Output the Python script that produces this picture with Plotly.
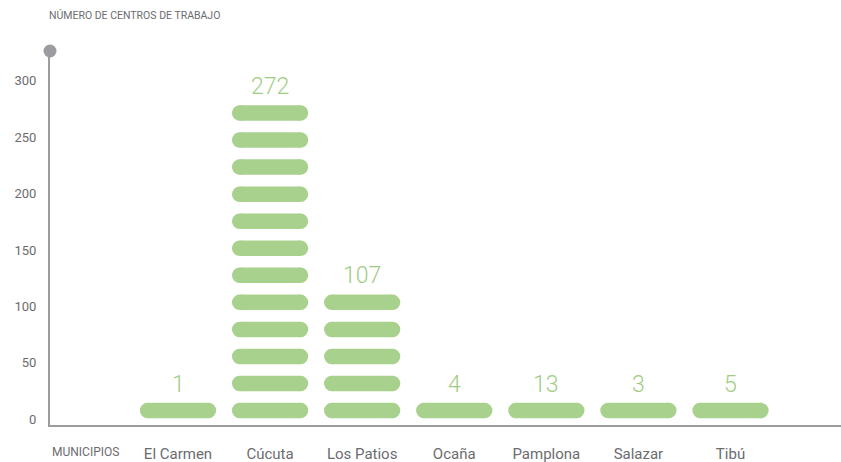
import math
import plotly.graph_objects as go

# ---- data ----
municipios = ["El Carmen", "Cúcuta", "Los Patios", "Ocaña", "Pamplona", "Salazar", "Tibú"]
centros = [1, 272, 107, 4, 13, 3, 5]
y_ticks = [0, 50, 100, 150, 200, 250, 300]
y_title = "NÚMERO DE CENTROS DE TRABAJO"
x_title = "MUNICIPIOS"

# ---- styles ----
GREEN = "#a9d18e"
GREEN_TXT = "#9fcd84"
AXIS = "#9b9ca0"
TXT = "#6b6c70"
FONT = "Roboto, DejaVu Sans Condensed, sans-serif"
PILL_UNIT = 24        # value represented by one pill
PILL_OFFSET = 7.5     # centre of first pill (value units)
PILL_HALF = 0.33      # half length of the straight part (category units)
PILL_PX = 15.5        # pill thickness in px
X_RANGE = [-1.39, 7.2]
Y_RANGE = [-5.3, 326.5]

fig = go.Figure()

px, py = [], []
tops = []
for i, v in enumerate(centros):
    n = max(1, math.ceil(v / PILL_UNIT))
    for k in range(n):
        yc = PILL_OFFSET + PILL_UNIT * k
        px += [i - PILL_HALF, i + PILL_HALF, None]
        py += [yc, yc, None]
    tops.append(PILL_OFFSET + PILL_UNIT * (n - 1))

fig.add_trace(go.Scatter(
    x=px, y=py, mode="lines+markers",
    line=dict(color=GREEN, width=PILL_PX),
    marker=dict(color=GREEN, size=PILL_PX, line=dict(width=0)),
    hoverinfo="skip", showlegend=False, connectgaps=False,
))

# circle at top of y axis
fig.add_trace(go.Scatter(
    x=[X_RANGE[0]], y=[Y_RANGE[1]], mode="markers",
    marker=dict(color=AXIS, size=13, line=dict(width=0)),
    cliponaxis=False, hoverinfo="skip", showlegend=False,
))

for i, (v, t) in enumerate(zip(centros, tops)):
    fig.add_annotation(
        x=i, y=t, text=str(v), showarrow=False,
        xanchor="center", yanchor="bottom", yshift=11,
        font=dict(family=FONT, size=23, color=GREEN_TXT, weight=300),
    )

fig.add_annotation(
    xref="paper", yref="paper", x=0, y=1, xshift=-3, yshift=36,
    xanchor="left", yanchor="middle", text=y_title, showarrow=False,
    font=dict(family=FONT, size=10.5, color=TXT),
)
fig.add_annotation(
    x=-1, yref="paper", y=0, yshift=-27, xanchor="center", yanchor="middle",
    text=x_title, showarrow=False,
    font=dict(family=FONT, size=12, color=TXT),
)

fig.update_layout(
    width=841, height=462,
    margin=dict(l=50, r=0, t=51, b=37),
    plot_bgcolor="white", paper_bgcolor="white",
    xaxis=dict(
        range=X_RANGE, tickvals=list(range(len(municipios))), ticktext=municipios,
        showgrid=False, zeroline=False, showline=True, linecolor=AXIS, linewidth=2,
        ticks="outside", ticklen=14, tickcolor="rgba(0,0,0,0)",
        tickfont=dict(family=FONT, size=15, color=TXT), fixedrange=True,
    ),
    yaxis=dict(
        range=Y_RANGE, tickvals=y_ticks,
        showgrid=False, zeroline=False, showline=True, linecolor=AXIS, linewidth=2,
        ticks="outside", ticklen=9, tickcolor="rgba(0,0,0,0)",
        tickfont=dict(family=FONT, size=13, color=TXT), fixedrange=True,
    ),
)

fig.write_html(
    "out.html", config={"displayModeBar": False},
    post_script="document.body.style.margin='0';",
)
